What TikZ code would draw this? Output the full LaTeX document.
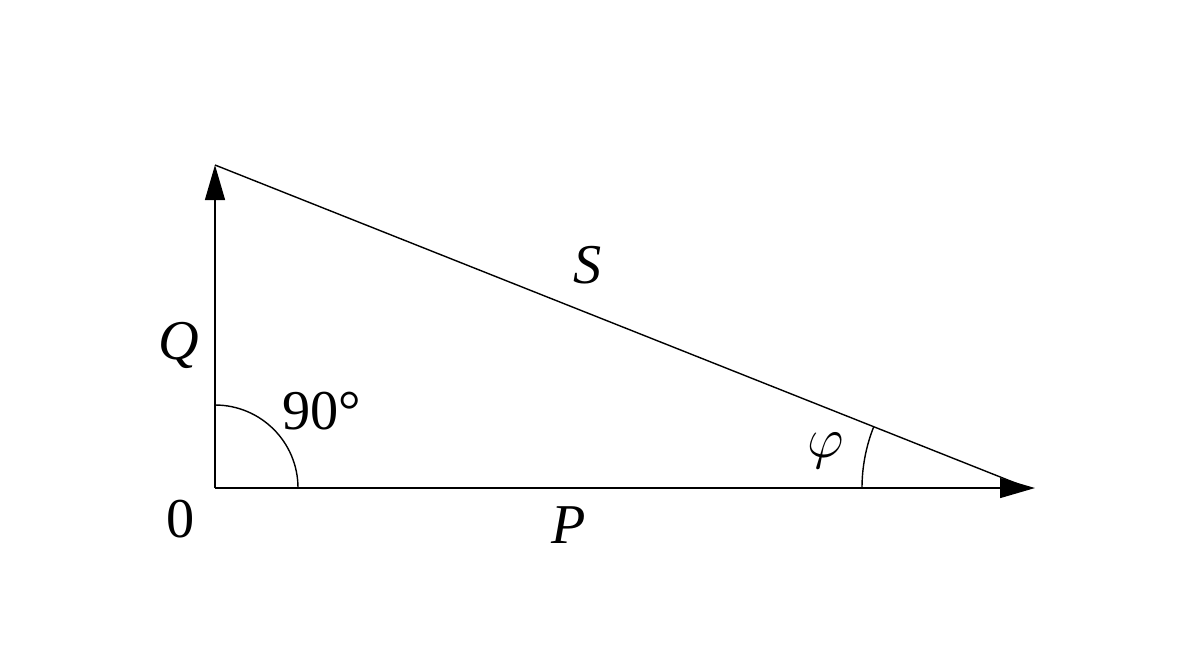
\documentclass[tikz,border=0pt]{standalone}
\usepackage{amsmath}
\usepackage{fontspec}
\setmainfont{Liberation Serif}
\usetikzlibrary{arrows.meta,calc}

\begin{document}
\begin{tikzpicture}[
			x=0.02cm, y=-0.02cm,
			line width=0.8pt,
			vec/.style={
				-{Triangle[length=0.7cm,width=0.4cm]}
			},
			lbl/.style={
				font=\fontsize{32}{36}\selectfont,
				inner sep=0pt
			}
			]
			\useasboundingbox (0,0) rectangle (1200,654);
			\coordinate (O) at (215,488);
			\coordinate (Qt) at (215,165);
			\coordinate (Pt) at (1035,488);
			\coordinate (Se) at (1028,488);
			% sides of the triangle
			\draw[vec] (O) -- (Qt);
			\draw[vec] (O) -- (Pt);
			\draw (Qt) -- (Se);
			% angle marks
			\draw (298,488) arc[start angle=0, end angle=-90, radius=83];
			\draw ($(Se)+(-166,0)$) arc[start angle=180, end angle=201.7, radius=166];
			% labels
			\node[lbl] (q) at (179,345) {\itshape Q};
			\node[lbl] (s) at (588,265) {\itshape S};
			\node[lbl] (p) at (569,525) {\itshape P};
			\node[lbl] (z) at (181,519) {0};
			\node[lbl] (r) at (322,411) {90°};
			\node[lbl] (f) at (826,451) {\scalebox{1.3}{$\varphi$}};
		\end{tikzpicture}
\end{document}
